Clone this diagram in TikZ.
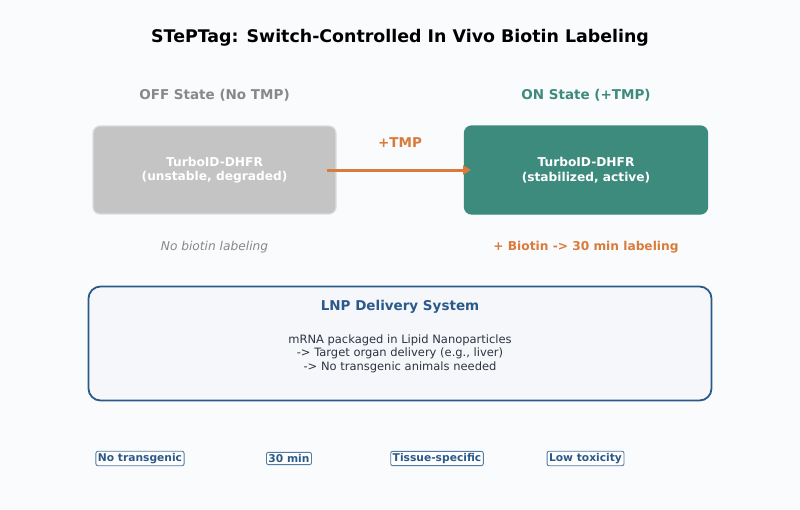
\documentclass[tikz,border=0pt]{standalone}
\usepackage{fontspec}
\setmainfont{DejaVu Sans}
\usetikzlibrary{arrows.meta}
\definecolor{bgc}{HTML}{FAFBFD}
\definecolor{offgray}{HTML}{C3C4C3}
\definecolor{offborder}{HTML}{DCDDDD}
\definecolor{teal}{HTML}{3D8B7D}
\definecolor{orng}{HTML}{D97B3A}
\definecolor{navy}{HTML}{2B5A8A}
\definecolor{lnpfill}{HTML}{F5F7FB}
\definecolor{txtgray}{HTML}{888888}
\definecolor{bodytxt}{HTML}{2E3440}
\tikzset{
  statebox/.style={rounded corners=7pt, minimum width=243pt, minimum height=88pt, align=center, text=white, font=\fontsize{12.2}{14.5}\selectfont\bfseries, line width=1.2pt},
  tagbox/.style={draw=navy!80, line width=0.9pt, rounded corners=2pt, fill=white, text=navy, font=\fontsize{10.7}{13}\selectfont\bfseries, inner sep=2pt},
  heading/.style={font=\fontsize{13.5}{16}\selectfont\bfseries},
}
\begin{document}
\begin{tikzpicture}[x=1pt,y=-1pt]
\fill[bgc] (0,0) rectangle (800,509);
\useasboundingbox (0,0) rectangle (800,509);
\node[font=\fontsize{17.4}{20}\selectfont\bfseries] (title) at (400,37.5) {STePTag: Switch-Controlled In Vivo Biotin Labeling};
\node[heading, text=txtgray] (offlab) at (214.5,95) {OFF State (No TMP)};
\node[heading, text=teal] (onlab) at (586,95) {ON State (+TMP)};
\node[statebox, fill=offgray, draw=offborder] (off) at (214.5,170) {TurboID-DHFR\\(unstable, degraded)};
\node[statebox, fill=teal, draw=teal] (on) at (586,170) {TurboID-DHFR\\(stabilized, active)};
\coordinate (astart) at (327,170);
\coordinate (aend) at (471,170);
\draw[orng, line width=3pt, -{Triangle[length=8pt,width=9pt]}] (astart) -- (aend);
\node[heading, text=orng] (tmp) at (400,143) {+TMP};
\node[text=txtgray, font=\fontsize{12.2}{14}\selectfont\itshape] (nobio) at (214.5,247) {No biotin labeling};
\node[text=orng, font=\fontsize{12.2}{14}\selectfont\bfseries] (bio) at (586,247) {+ Biotin -> 30 min labeling};
\draw[navy, line width=1.8pt, fill=lnpfill, rounded corners=12pt] (88.5,286.5) rectangle (711.5,400.5);
\node[heading, text=navy] (lnptitle) at (400,307) {LNP Delivery System};
\node[text=bodytxt, align=center, font=\fontsize{11.5}{13.6}\selectfont] (lnpbody) at (400,353.5) {mRNA packaged in Lipid Nanoparticles\\-> Target organ delivery (e.g., liver)\\-> No transgenic animals needed};
\node[tagbox] (t1) at (140,458.5) {No transgenic};
\node[tagbox] (t2) at (289,458.5) {30 min};
\node[tagbox] (t3) at (437,458.5) {Tissue-specific};
\node[tagbox] (t4) at (585.5,458.5) {Low toxicity};
\end{tikzpicture}
\end{document}
